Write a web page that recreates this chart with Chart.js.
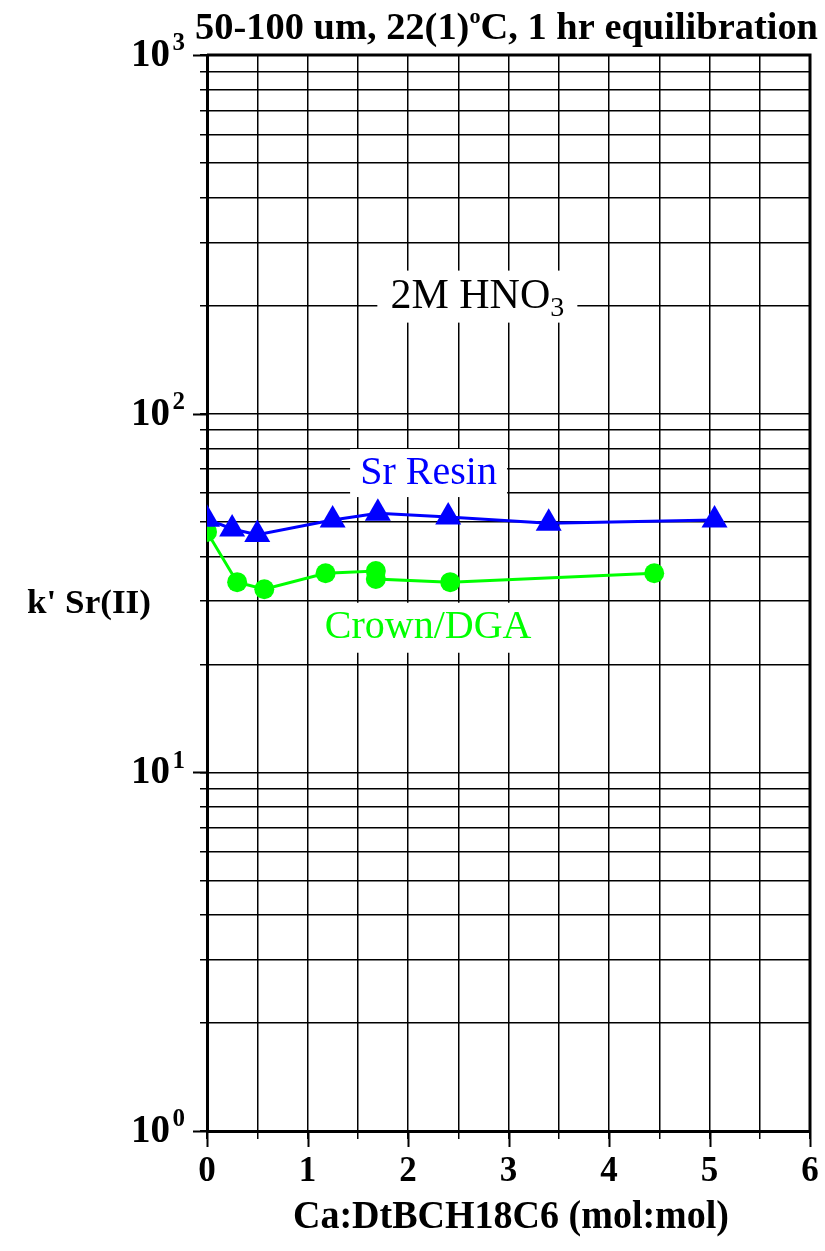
<!DOCTYPE html>
<html>
<head>
<meta charset="utf-8">
<script src="https://cdn.jsdelivr.net/npm/chart.js@4.4.1/dist/chart.umd.min.js"></script>
<style>
  html, body { margin: 0; padding: 0; background: #fff; }
  #wrap { width: 825px; height: 1251px; }
</style>
</head>
<body>
<div id="wrap"><canvas id="c" width="825" height="1251"></canvas></div>
<script>
// data
var srX = [0, 0.25, 0.5, 1.25, 1.7, 2.4, 3.4, 5.05];
var srY = [50.8, 47.7, 46.0, 50.5, 52.8, 51.5, 49.5, 50.5];
var crownX = [0, 0.3, 0.57, 1.18, 1.68, 1.68, 2.42, 4.45];
var crownY = [46.8, 33.9, 32.4, 35.9, 36.4, 34.6, 33.9, 35.9];

var xTicks = [0, 0.5, 1, 1.5, 2, 2.5, 3, 3.5, 4, 4.5, 5, 5.5, 6];
var yTicks = [1, 2, 3, 4, 5, 6, 7, 8, 9, 10, 20, 30, 40, 50, 60, 70, 80, 90,
              100, 200, 300, 400, 500, 600, 700, 800, 900, 1000];
var yLabels = [[1, '0'], [10, '1'], [100, '2'], [1000, '3']];

var FONT = '"Liberation Serif", "Times New Roman", serif';

function toPts(xs, ys) {
    return xs.map(function (x, i) { return { x: x, y: ys[i] }; });
}

// 텍스트 (위첨자/아래첨자)
function richText(ctx, parts, x, y, align, maxW) {
    var w = 0;
    parts.forEach(function (p) {
        ctx.font = p.font;
        p.w = ctx.measureText(p.t).width;
        w += p.w;
    });
    var sx = maxW ? maxW / w : 1;
    var tw = w * sx;
    var x0 = align === 'center' ? x - tw / 2 : (align === 'right' ? x - tw : x);
    ctx.save();
    ctx.translate(x0, y);
    ctx.scale(sx, 1);
    ctx.textBaseline = 'middle';
    ctx.textAlign = 'left';
    var cx = 0;
    parts.forEach(function (p) {
        ctx.font = p.font;
        ctx.fillStyle = p.color || '#000';
        ctx.fillText(p.t, cx, p.dy || 0);
        cx += p.w;
    });
    ctx.restore();
    return tw;
}

var notes = [
    { x: 2.205, y: 68.3, color: '#0000ff', box: [157, 48],
      parts: [{ t: 'Sr Resin', font: '40px ' + FONT }] },
    { x: 2.2, y: 25.3, color: '#00ff00', box: [222, 50],
      parts: [{ t: 'Crown/DGA', font: '40px ' + FONT }] },
    { x: 2.69, y: 212, color: '#000', box: [200, 52],
      parts: [{ t: '2M HNO', font: '42px ' + FONT },
              { t: '3', font: '28px ' + FONT, dy: 12 }] }
];

var textPlugin = {
    id: 'textPlugin',
    beforeDatasetsDraw: function (chart) {
        var ctx = chart.ctx, xs = chart.scales.x, ys = chart.scales.y;
        notes.forEach(function (n) {
            var px = xs.getPixelForValue(n.x), py = ys.getPixelForValue(n.y);
            ctx.fillStyle = '#fff';
            ctx.fillRect(px - n.box[0] / 2, py - n.box[1] / 2, n.box[0], n.box[1]);
            n.parts.forEach(function (p) { p.color = n.color; });
            richText(ctx, n.parts, px, py, 'center');
        });
    },
    afterDraw: function (chart) {
        var ctx = chart.ctx, a = chart.chartArea;
        var xs = chart.scales.x, ys = chart.scales.y;
        ctx.save();
        ctx.strokeStyle = '#000';
        // 테두리
        ctx.lineWidth = 3;
        ctx.beginPath();
        ctx.moveTo(a.left, a.top); ctx.lineTo(a.right, a.top); ctx.lineTo(a.right, a.bottom);
        ctx.stroke();
        // major ticks longer
        ctx.lineWidth = 2;
        ctx.beginPath();
        xTicks.forEach(function (v) {
            if (v % 1 !== 0) return;
            var px = Math.round(xs.getPixelForValue(v)) + 0.5;
            ctx.moveTo(px, a.bottom); ctx.lineTo(px, a.bottom + 16);
        });
        yLabels.forEach(function (l) {
            var py = Math.round(ys.getPixelForValue(l[0])) + 0.5;
            ctx.moveTo(a.left, py); ctx.lineTo(a.left - 14, py);
        });
        ctx.stroke();
        ctx.restore();

        // title
        richText(ctx, [
            { t: '50-100 um, 22(1)', font: 'bold 38px ' + FONT },
            { t: 'o', font: 'bold 22px ' + FONT, dy: -12 },
            { t: 'C, 1 hr equilibration', font: 'bold 38px ' + FONT }
        ], 818, 29, 'right', 623);

        // y tick labels
        yLabels.forEach(function (l) {
            var py = ys.getPixelForValue(l[0]);
            var w = richText(ctx, [{ t: l[1], font: 'bold 25px ' + FONT }], 185, py - 11, 'right');
            richText(ctx, [{ t: '10', font: 'bold 39px ' + FONT }], 170, py + 1, 'right');
        });

        // x tick labels
        xTicks.forEach(function (v) {
            if (v % 1 !== 0) return;
            richText(ctx, [{ t: String(v), font: 'bold 35px ' + FONT }],
                xs.getPixelForValue(v), 1172, 'center');
        });

        richText(ctx, [{ t: 'Ca:DtBCH18C6 (mol:mol)', font: 'bold 40px ' + FONT }],
            511, 1218, 'center', 436);
        richText(ctx, [{ t: "k' Sr(II)", font: 'bold 34px ' + FONT }],
            27, 604, 'left', 124);
    }
};

var ctx = document.getElementById('c').getContext('2d');
var chart = new Chart(ctx, {
    type: 'line',
    data: {
        datasets: [{
            label: 'Sr Resin',
            data: toPts(srX, srY),
            borderColor: '#0000ff',
            backgroundColor: '#0000ff',
            borderWidth: 3,
            pointStyle: 'triangle',
            pointRadius: 15,
            pointBorderWidth: 0,
            tension: 0,
            clip: 0
        }, {
            label: 'Crown/DGA',
            data: toPts(crownX, crownY),
            borderColor: '#00ff00',
            backgroundColor: '#00ff00',
            borderWidth: 3,
            pointStyle: 'circle',
            pointRadius: 10,
            pointBorderWidth: 0,
            tension: 0,
            clip: 0
        }]
    },
    options: {
        responsive: false,
        animation: false,
        layout: { padding: { top: 55, right: 14, left: 0, bottom: 0 } },
        scales: {
            x: {
                type: 'linear',
                min: 0,
                max: 6,
                afterBuildTicks: function (s) {
                    s.ticks = xTicks.map(function (v) { return { value: v }; });
                },
                afterFit: function (s) { s.height = 120; },
                ticks: { display: false, autoSkip: false },
                grid: { color: '#000', lineWidth: 1.5, tickLength: 8, drawTicks: true },
                border: { display: true, color: '#000', width: 3 }
            },
            y: {
                type: 'logarithmic',
                min: 1,
                max: 1000,
                afterBuildTicks: function (s) {
                    s.ticks = yTicks.map(function (v) { return { value: v }; });
                },
                afterFit: function (s) { s.width = 207; },
                ticks: { display: false, autoSkip: false },
                grid: { color: '#000', lineWidth: 1.5, tickLength: 7, drawTicks: true },
                border: { display: true, color: '#000', width: 3 }
            }
        },
        plugins: {
            legend: { display: false },
            tooltip: { enabled: false }
        }
    },
    plugins: [textPlugin]
});
</script>
</body>
</html>
